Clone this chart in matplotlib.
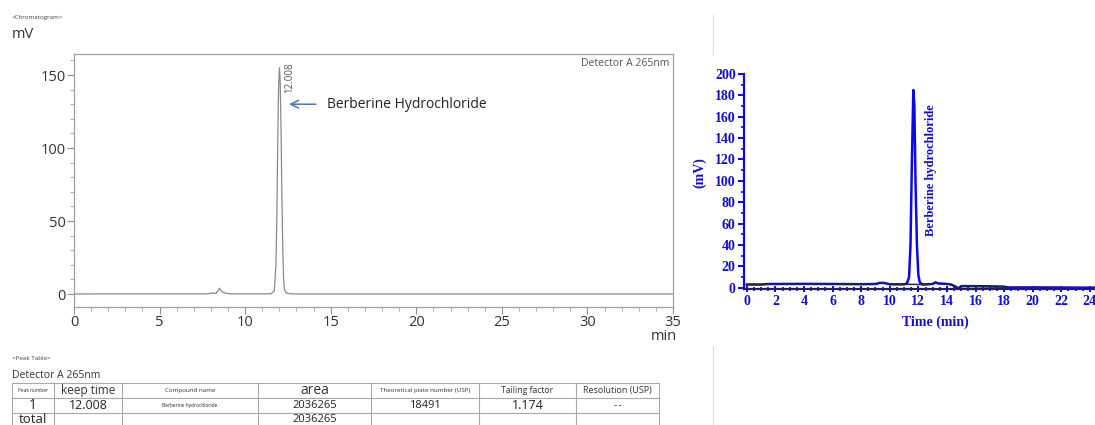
import numpy as np
import matplotlib.pyplot as plt
from matplotlib.lines import Line2D
from matplotlib.ticker import MultipleLocator

# --- left chromatogram (Detector A 265nm) ---
time_a = [0, 2.0, 7.8, 8.1, 8.3, 8.5, 8.65, 8.9, 9.2, 11.5, 11.7, 11.8, 11.85,
          11.9, 11.95, 12.0, 12.05, 12.1, 12.15, 12.2, 12.25, 12.3, 12.4, 12.6,
          13.0, 35.0]
signal_a = [0, 0.1, 0.1, 0.8, 0.3, 4.0, 1.5, 0.5, 0.1, 0.1, 2, 20, 50,
            100, 140, 155, 145, 110, 65, 30, 10, 3, 0.8, 0.2,
            0, 0]

# --- right chromatogram ---
time_b = [0, 1.0, 1.5, 4.0, 6.0, 8.0, 9.0, 9.3, 9.6, 10.0, 11.0, 11.2, 11.35,
          11.45, 11.55, 11.65, 11.72, 11.8, 11.9, 12.0, 12.1, 12.3, 13.0, 13.2,
          13.4, 14.0, 14.3, 14.6, 14.8, 15.0, 16.0, 18.0, 18.3, 20.0, 24.5]
signal_b = [3, 3, 3.5, 3.6, 3.5, 3.3, 3.5, 4.5, 4.5, 3.2, 3.2, 4, 10,
            40, 120, 185, 170, 100, 40, 12, 5, 3, 3.5, 5,
            4, 3.5, 3, 1, -0.5, 1.5, 1.5, 1, 0.2, 0.3, 0]
# blank trace sitting on the baseline
time_blank = [0, 1.0, 1.5, 8.0, 9.0, 9.3, 9.6, 10.0, 11.2, 12.3, 13.0, 13.2,
              13.4, 14.3, 14.6, 14.8, 15.0, 18.0, 18.3, 24.5]
signal_blank = [3, 3, 3.5, 3.3, 3.5, 4.5, 4.5, 3.2, 3.2, 3, 3.5, 5,
                4, 3, 1, -0.5, 1.5, 1, 0.2, 0]

# --- peak table ---
table_header = ['Peak number', 'keep time', 'Compound name', 'area',
                'Theoretical plate number (USP)', 'Tailing factor', 'Resolution (USP)']
table_row = ['1', '12.008', 'Berberine hydrochloride', '2036265', '18491', '1.174', '--']
table_total = ['total', '', '', '2036265', '', '', '']

W, H = 1095, 425
fig = plt.figure(figsize=(W / 100, H / 100), dpi=100)
sans = 'Open Sans'
serif = 'Liberation Serif'


def fx(px):
    return px / W


def fy(py):
    return 1 - py / H


# ---------------- left chart ----------------
ax = fig.add_axes([fx(74), fy(307), fx(673 - 74), (307 - 54) / H])
ax.plot(time_a, signal_a, color='#8a8a8a', lw=0.9)
ax.set_xlim(0, 35)
ax.set_ylim(-8.9, 164.4)
ax.xaxis.set_major_locator(MultipleLocator(5))
ax.xaxis.set_minor_locator(MultipleLocator(1))
ax.yaxis.set_major_locator(MultipleLocator(50))
ax.yaxis.set_minor_locator(MultipleLocator(10))
for s in ax.spines.values():
    s.set_color('#a0a0a0')
    s.set_linewidth(0.9)
ax.tick_params(which='major', length=5, color='#909090', labelsize=10.5,
               labelcolor='#333333', pad=1)
ax.tick_params(which='minor', length=3, color='#a0a0a0')
ax.set_xticks([0, 5, 10, 15, 20, 25, 30, 35])
ax.set_xticklabels(['0', '5', '10', '15', '20', '25', '30', '35'], fontfamily=sans)
for lab in ax.get_yticklabels():
    lab.set_fontfamily(sans)
ax.text(35.25, -29, 'min', ha='right', va='center', fontsize=10.5,
        color='#333333', fontfamily=sans)
ax.text(34.8, 158, 'Detector A 265nm', ha='right', va='center', fontsize=7.5,
        color='#555555', fontfamily=sans)
ax.text(12.6, 148, '12.008', rotation=90, ha='center', va='center', fontsize=7,
        color='#555555', fontfamily=sans)
ax.annotate('', xy=(12.4, 130), xytext=(14.3, 130),
            arrowprops=dict(arrowstyle='->', color='#4a78b4', lw=1.1,
                            mutation_scale=14))
ax.text(14.8, 129.5, 'Berberine Hydrochloride', ha='left', va='center',
        fontsize=10, color='#222222', fontfamily=sans)

fig.text(fx(12), fy(18), '<Chromatogram>', fontsize=4.5, color='#444444',
         fontfamily=sans, va='center')
fig.text(fx(12), fy(34), 'mV', fontsize=10.5, color='#333333',
         fontfamily=sans, va='center')

# ---------------- peak table ----------------
fig.text(fx(12), fy(359), '<Peak Table>', fontsize=4.5, color='#444444',
         fontfamily=sans, va='center')
fig.text(fx(12), fy(376), 'Detector A 265nm', fontsize=7.5, color='#333333',
         fontfamily=sans, va='center')
col_edges = [12, 54, 122, 258, 371, 479, 576, 659]
row_edges = [383, 398, 413, 428]
grid = '#a8a8a8'
for yv in row_edges:
    fig.add_artist(Line2D([fx(col_edges[0]), fx(col_edges[-1])], [fy(yv), fy(yv)],
                          color=grid, lw=0.8))
for xv in col_edges:
    fig.add_artist(Line2D([fx(xv), fx(xv)], [fy(row_edges[0]), fy(row_edges[-1])],
                          color=grid, lw=0.8))
header_sizes = [3.5, 8.5, 4.5, 10, 4.5, 6.2, 6.5]
row_sizes = [10, 9, 3.5, 8, 8, 9, 6.5]
for i in range(len(table_header)):
    cx = fx((col_edges[i] + col_edges[i + 1]) / 2)
    fig.text(cx, fy(390.5), table_header[i], ha='center', va='center',
             fontsize=header_sizes[i], color='#333333', fontfamily=sans)
    fam = 'DejaVu Sans Mono' if table_row[i] == '--' else sans
    fig.text(cx, fy(405.5), table_row[i], ha='center', va='center',
             fontsize=row_sizes[i], color='#222222', fontfamily=fam)
    if table_total[i]:
        fig.text(cx, fy(419.5), table_total[i], ha='center', va='center',
                 fontsize=8 if i else 9.5, color='#222222', fontfamily=sans)

# light separator lines of the pasted panel
fig.add_artist(Line2D([fx(713), fx(713)], [fy(15), fy(54)], color='#dddddd', lw=0.8))
fig.add_artist(Line2D([fx(713), fx(713)], [fy(346), fy(425)], color='#dddddd', lw=0.8))

# ---------------- right chart ----------------
blue = '#0a0ae6'
navy = '#20205a'
label_blue = '#1010c8'
bx = fig.add_axes([fx(744), fy(288.8), fx(1095 - 744), (288.8 - 74) / H])
bx.plot(time_b, signal_b, color=blue, lw=1.8, zorder=3)
bx.plot(time_blank, signal_blank, color=navy, lw=1.1, zorder=4)
bx.set_xlim(-0.2, 24.36)
bx.set_ylim(-1, 200)
bx.xaxis.set_major_locator(MultipleLocator(2))
bx.xaxis.set_minor_locator(MultipleLocator(0.5))
bx.yaxis.set_major_locator(MultipleLocator(20))
bx.yaxis.set_minor_locator(MultipleLocator(10))
bx.spines['top'].set_visible(False)
bx.spines['right'].set_visible(False)
bx.spines['left'].set_color(blue)
bx.spines['left'].set_linewidth(1.6)
bx.spines['bottom'].set_color(navy)
bx.spines['bottom'].set_linewidth(1.6)
bx.tick_params(axis='y', which='major', length=4, width=1.4, color=blue,
               labelcolor=label_blue, labelsize=10, pad=2)
bx.tick_params(axis='y', which='minor', length=2.5, width=1.2, color=blue)
bx.tick_params(axis='x', which='major', direction='inout', length=5, width=1.4,
               color=blue, labelcolor=label_blue, labelsize=10, pad=2)
bx.tick_params(axis='x', which='minor', direction='inout', length=3, width=1.2,
               color=blue)
bx.set_xticks(np.arange(0, 25, 2))
for lab in bx.get_xticklabels() + bx.get_yticklabels():
    lab.set_fontfamily(serif)
    lab.set_fontweight('bold')
bx.set_xlabel('Time (min)', fontsize=10, fontweight='bold', color=label_blue,
              fontfamily=serif)
bx.xaxis.set_label_coords((935 - 744) / 351, -(316 - 288.8) / 214.8)
bx.set_ylabel('(mV)', fontsize=10, fontweight='bold', color=label_blue,
              fontfamily=serif)
bx.yaxis.set_label_coords(-(744 - 706) / 351, (288.8 - 173) / 214.8)
bx.text(12.9, 110, 'Berberine hydrochloride', rotation=90, ha='center',
        va='center', fontsize=9, fontweight='bold', color=label_blue,
        fontfamily=serif)

fig.savefig('out.png', dpi=100, facecolor='white')
